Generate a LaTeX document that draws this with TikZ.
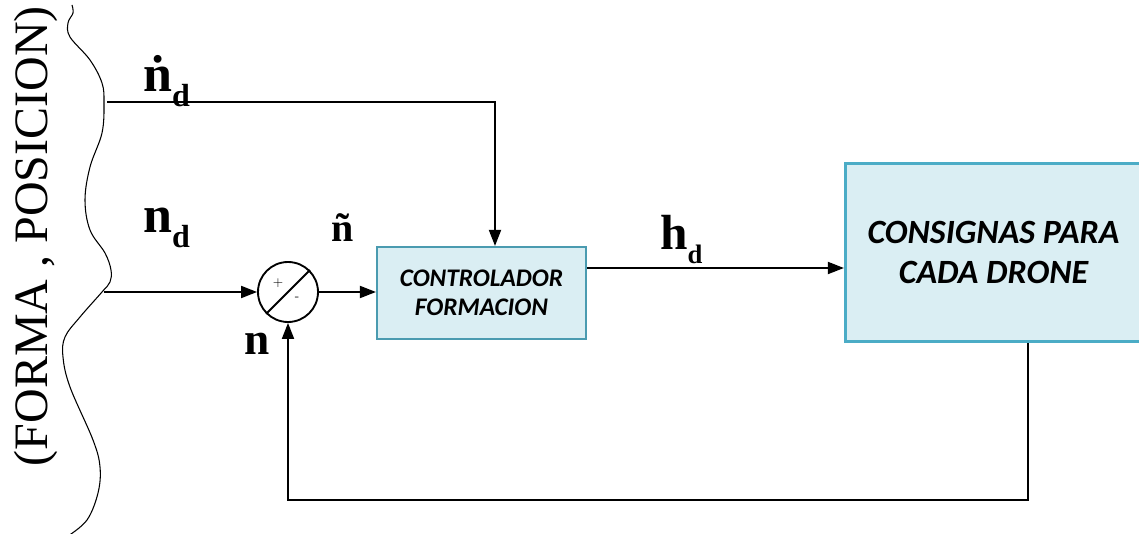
\documentclass[tikz,border=0pt]{standalone}
\usepackage{fontspec}
\setmainfont{Liberation Serif}
\newfontfamily\boxfont{Carlito}
\usetikzlibrary{arrows.meta,calc}
\definecolor{boxfill}{HTML}{DAEEF3}
\definecolor{boxedge}{HTML}{4A9BB0}
\definecolor{bigedge}{HTML}{4BACC6}
\tikzset{
  conn/.style={line width=1.4pt, draw=black},
  arr/.style={conn, -{Triangle[length=12pt,width=9pt]}},
  blockbox/.style={draw=boxedge, fill=boxfill, line width=1.6pt, align=center, inner sep=0pt,
     font=\boxfont\bfseries\itshape\fontsize{19}{22}\selectfont},
  bigbox/.style={draw=bigedge, fill=boxfill, line width=2.4pt, align=center, inner sep=0pt,
     font=\boxfont\bfseries\itshape\fontsize{25.5}{30}\selectfont},
  sumnode/.style={circle, draw=black, line width=1.4pt, minimum size=45pt, inner sep=0pt},
  sig/.style={inner sep=0pt, font=\bfseries},
}
\newcommand{\bigsym}[1]{{\fontsize{39}{39}\selectfont #1}}
\newcommand{\subsym}[1]{\raisebox{-11pt}{\fontsize{24}{24}\selectfont #1}}
\begin{document}
\begin{tikzpicture}[x=0.75pt,y=-0.75pt]
\useasboundingbox (0,0) rectangle (1139,534);
% brace
\draw[line width=0.8pt] plot[smooth, tension=0.6] coordinates {(72,5) (73,13) (68,23) (70,37) (90,60) (102,83) (104,103) (102,133) (90,167) (85,200) (90,230) (105,253) (111,270) (110,282) (102,292) (80,317) (65,337) (63,357) (70,387) (93,440) (100,467) (98,493) (87,520) (68,536)};
\node[rotate=90, inner sep=0pt, font=\fontsize{36}{36}\selectfont] (label) at (36,236) {(FORMA , POSICION)};
% blocks
\node[blockbox, minimum width=156.75pt, minimum height=69pt] (ctrl) at (481.5,293) {CONTROLADOR\\FORMACION};
\node[bigbox, minimum width=222pt, minimum height=134pt] (big) at (993.5,252.5) {CONSIGNAS PARA\\CADA DRONE};
\node[sumnode] (sum) at (288,292) {};
\draw[line width=1.4pt] (sum.225) -- (sum.45);
\node[inner sep=0pt, font=\sffamily\fontsize{10}{10}\selectfont] (plus) at (278,283) {+};
\node[inner sep=0pt, font=\sffamily\fontsize{10}{10}\selectfont] (minus) at (297,299) {-};
% coordinates
\coordinate (ndot) at (107,102);
\coordinate (tin) at (495,0);
\coordinate (nin) at (104,292);
\coordinate (hy) at (0,268);
\coordinate (fbc) at (1028,500);
% connectors
\draw[arr] (ndot) -| (ctrl.north -| tin);
\draw[arr] (nin) -- (sum.west);
\draw[arr] (sum.east) -- (ctrl.west |- sum.east);
\draw[arr] (ctrl.east |- hy) -- (big.west |- hy);
\draw[arr] (big.south -| fbc) -- (fbc) -| (sum.south);
% labels
\node[sig, anchor=base west] (ndotlbl) at (143,92) {\bigsym{ṅ}\subsym{d}};
\node[sig, anchor=base west] (ndlbl) at (143,233) {\bigsym{n}\subsym{d}};
\node[sig, anchor=base west, font=\bfseries\fontsize{30}{30}\selectfont] (ntil) at (331,242) {ñ};
\node[sig, anchor=base west] (hdlbl) at (660,250) {{\fontsize{37}{37}\selectfont h}\raisebox{-10pt}{\fontsize{20}{20}\selectfont d}};
\node[sig, anchor=base west, font=\bfseries\fontsize{34}{34}\selectfont] (nlbl) at (244,355) {n};
\end{tikzpicture}
\end{document}
